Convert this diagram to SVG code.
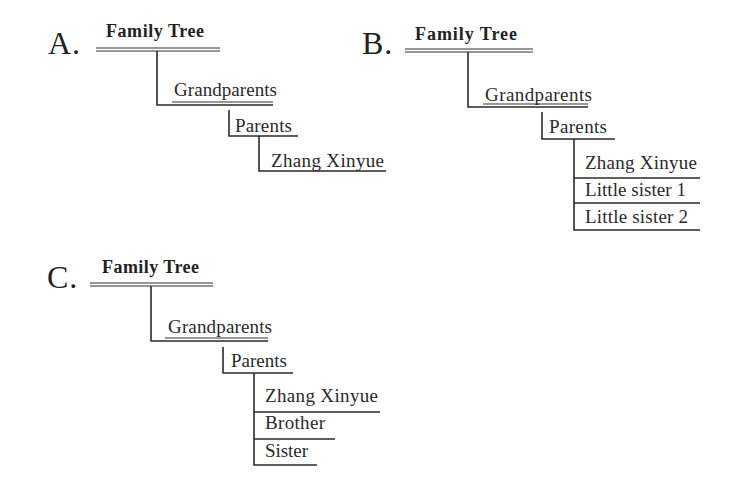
<svg xmlns="http://www.w3.org/2000/svg" width="734" height="488" viewBox="0 0 734 488">
<style>
.bg{fill:#ffffff}
.lbl{font-family:"Liberation Serif","Times New Roman",serif;font-size:32px;fill:#222;letter-spacing:1px}
.ttl{font-family:"Liberation Serif","Times New Roman",serif;font-size:18px;font-weight:bold;fill:#222}
.txt{font-family:"Liberation Serif","Times New Roman",serif;font-size:19px;fill:#2a2a2a}
.ln{stroke:#2a2a2a;stroke-width:1.6;fill:none}
.thin{stroke:#333;stroke-width:1.2;fill:none}
</style>
<rect class="bg" x="0" y="0" width="734" height="488"/>

<!-- Panel A -->
<g id="panelA">
  <text class="lbl" x="48" y="54">A.</text>
  <g id="A-familytree">
    <text class="ttl" x="106" y="37" textLength="98" lengthAdjust="spacing">Family Tree</text>
    <line class="thin" x1="96" y1="48" x2="220" y2="48"/>
    <line class="thin" x1="96" y1="51" x2="220" y2="51"/>
  </g>
  <g id="A-grandparents">
    <text class="txt" x="174" y="96" textLength="103" lengthAdjust="spacing">Grandparents</text>
    <line class="thin" x1="172" y1="102" x2="273" y2="102"/>
  </g>
  <g id="A-parents">
    <text class="txt" x="235" y="132" textLength="57" lengthAdjust="spacing">Parents</text>
  </g>
  <g id="A-zhang">
    <text class="txt" x="271" y="167" textLength="113" lengthAdjust="spacing">Zhang Xinyue</text>
  </g>
  <g id="A-connectors">
    <polyline class="ln" points="157,51 157,105 273,105"/>
    <polyline class="ln" points="229,110 229,136 298,136"/>
    <polyline class="ln" points="259,136 259,171 386,171"/>
  </g>
</g>

<!-- Panel B -->
<g id="panelB">
  <text class="lbl" x="362" y="54">B.</text>
  <g id="B-familytree">
    <text class="ttl" x="415" y="40" textLength="102" lengthAdjust="spacing">Family Tree</text>
    <line class="thin" x1="405" y1="49" x2="533" y2="49"/>
    <line class="thin" x1="405" y1="52" x2="533" y2="52"/>
  </g>
  <g id="B-grandparents">
    <text class="txt" x="485" y="101" textLength="107" lengthAdjust="spacing">Grandparents</text>
    <line class="thin" x1="483" y1="104" x2="588" y2="104"/>
  </g>
  <g id="B-parents">
    <text class="txt" x="549" y="133" textLength="58" lengthAdjust="spacing">Parents</text>
  </g>
  <g id="B-zhang">
    <text class="txt" x="585" y="169" textLength="112" lengthAdjust="spacing">Zhang Xinyue</text>
  </g>
  <g id="B-sister1">
    <text class="txt" x="585" y="196" textLength="101" lengthAdjust="spacing">Little sister 1</text>
  </g>
  <g id="B-sister2">
    <text class="txt" x="585" y="223" textLength="103" lengthAdjust="spacing">Little sister 2</text>
  </g>
  <g id="B-connectors">
    <polyline class="ln" points="468,52 468,107 588,107"/>
    <polyline class="ln" points="542,112 542,139 615,139"/>
    <polyline class="ln" points="574,139 574,230 700,230"/>
    <line class="ln" x1="574" y1="178" x2="700" y2="178"/>
    <line class="ln" x1="574" y1="203" x2="700" y2="203"/>
  </g>
</g>

<!-- Panel C -->
<g id="panelC">
  <text class="lbl" x="47" y="288">C.</text>
  <g id="C-familytree">
    <text class="ttl" x="102" y="273" textLength="97" lengthAdjust="spacing">Family Tree</text>
    <line class="thin" x1="90" y1="283" x2="213" y2="283"/>
    <line class="thin" x1="90" y1="286" x2="213" y2="286"/>
  </g>
  <g id="C-grandparents">
    <text class="txt" x="168" y="333" textLength="104" lengthAdjust="spacing">Grandparents</text>
    <line class="thin" x1="165" y1="338" x2="268" y2="338"/>
  </g>
  <g id="C-parents">
    <text class="txt" x="231" y="367" textLength="56" lengthAdjust="spacing">Parents</text>
  </g>
  <g id="C-zhang">
    <text class="txt" x="265" y="402" textLength="113" lengthAdjust="spacing">Zhang Xinyue</text>
  </g>
  <g id="C-brother">
    <text class="txt" x="265" y="429" textLength="60" lengthAdjust="spacing">Brother</text>
  </g>
  <g id="C-sister">
    <text class="txt" x="265" y="457" textLength="43" lengthAdjust="spacing">Sister</text>
  </g>
  <g id="C-connectors">
    <polyline class="ln" points="151,286 151,341 268,341"/>
    <polyline class="ln" points="223,347 223,373 293,373"/>
    <polyline class="ln" points="254,373 254,465 317,465"/>
    <line class="ln" x1="254" y1="412" x2="380" y2="412"/>
    <line class="ln" x1="254" y1="439" x2="335" y2="439"/>
  </g>
</g>
</svg>
